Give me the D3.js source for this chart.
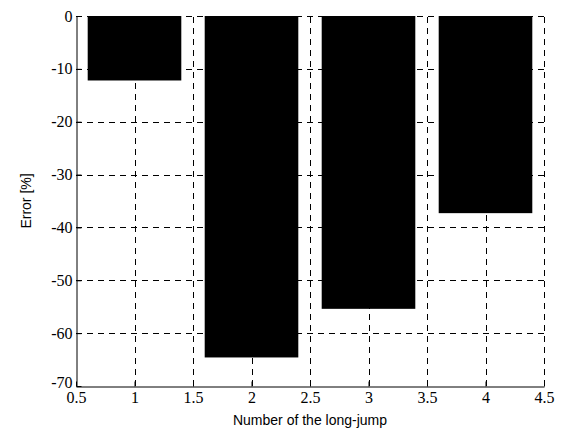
<!DOCTYPE html>
<html>
<head>
<meta charset="utf-8">
<script src="https://cdn.jsdelivr.net/npm/d3@7"></script>
<style>
  body { margin: 0; background: #fff; }
  svg { display: block; }
  .axis text { font-family: "Liberation Serif", "Times New Roman", serif; font-size: 16px; fill: #000; }
</style>
</head>
<body>
<div id="chart"></div>
<script>
// bar data
const jumps = [1, 2, 3, 4];
const errors = [-12.2, -64.6, -55.4, -37.3];
const xTicks = [0.5, 1, 1.5, 2, 2.5, 3, 3.5, 4, 4.5];
const yTicks = [0, -10, -20, -30, -40, -50, -60, -70];

const width = 562, height = 432;
const plotLeft = 76, plotRight = 544, plotTop = 16, plotBottom = 386;

const svg = d3.select("#chart").append("svg")
    .attr("width", width)
    .attr("height", height);

const x = d3.scaleLinear().domain([0.5, 4.5]).range([plotLeft, plotRight]);
const y = d3.scaleLinear().domain([-70, 0]).range([plotBottom, plotTop]);

// grid lines (dashed)
const grid = svg.append("g")
    .attr("stroke", "#000")
    .attr("stroke-width", 1)
    .attr("stroke-dasharray", "6,5")
    .attr("shape-rendering", "crispEdges");

grid.selectAll("line.v")
    .data(xTicks.slice(1))
    .enter().append("line")
    .attr("x1", d => Math.round(x(d)) + 0.5)
    .attr("x2", d => Math.round(x(d)) + 0.5)
    .attr("y1", plotBottom)
    .attr("y2", plotTop);

grid.selectAll("line.h")
    .data(yTicks.slice(0, -1))
    .enter().append("line")
    .attr("y1", d => Math.round(y(d)) + 0.5)
    .attr("y2", d => Math.round(y(d)) + 0.5)
    .attr("x1", plotLeft)
    .attr("x2", plotRight);

// bars, width 0.8 like matlab default
svg.selectAll("rect.bar")
    .data(jumps)
    .enter().append("rect")
    .attr("x", (d) => x(d - 0.4))
    .attr("width", x(1.4) - x(0.6))
    .attr("y", y(0))
    .attr("height", (d, i) => y(errors[i]) - y(0))
    .attr("fill", "#000");

// axes - ticks point inward
const xAxis = d3.axisBottom(x)
    .tickValues(xTicks)
    .tickFormat(d3.format("~g"))
    .tickSizeInner(-5)
    .tickSizeOuter(0)
    .tickPadding(5);

const yAxis = d3.axisLeft(y)
    .tickValues(yTicks)
    .tickFormat(d => d === 0 ? "0" : "-" + Math.abs(d))
    .tickSizeInner(-5)
    .tickSizeOuter(0)
    .tickPadding(4);

const gx = svg.append("g")
    .attr("class", "axis")
    .attr("transform", `translate(0,${plotBottom + 0.5})`)
    .call(xAxis);

const gy = svg.append("g")
    .attr("class", "axis")
    .attr("transform", `translate(${plotLeft + 0.5},0)`)
    .call(yAxis);

[gx, gy].forEach(g => {
    g.attr("font-family", null).attr("font-size", null);
    g.select(".domain").attr("stroke", "#000").attr("stroke-width", 1);
    g.selectAll(".tick line").attr("stroke", "#000");
});

// "-70" sits a little higher than the rest, as in the original
gy.selectAll(".tick text").filter(d => d === -70).attr("dy", "0.1em");

// axis titles
svg.append("text")
    .attr("x", (plotLeft + plotRight) / 2)
    .attr("y", 425)
    .attr("text-anchor", "middle")
    .style("font-family", "'Liberation Sans', Arial, sans-serif")
    .style("font-size", "14px")
    .text("Number of the long-jump");

svg.append("text")
    .attr("transform", `translate(31,${(plotTop + plotBottom) / 2}) rotate(-90)`)
    .attr("text-anchor", "middle")
    .style("font-family", "'Liberation Sans', Arial, sans-serif")
    .style("font-size", "14px")
    .text("Error [%]");
</script>
</body>
</html>
